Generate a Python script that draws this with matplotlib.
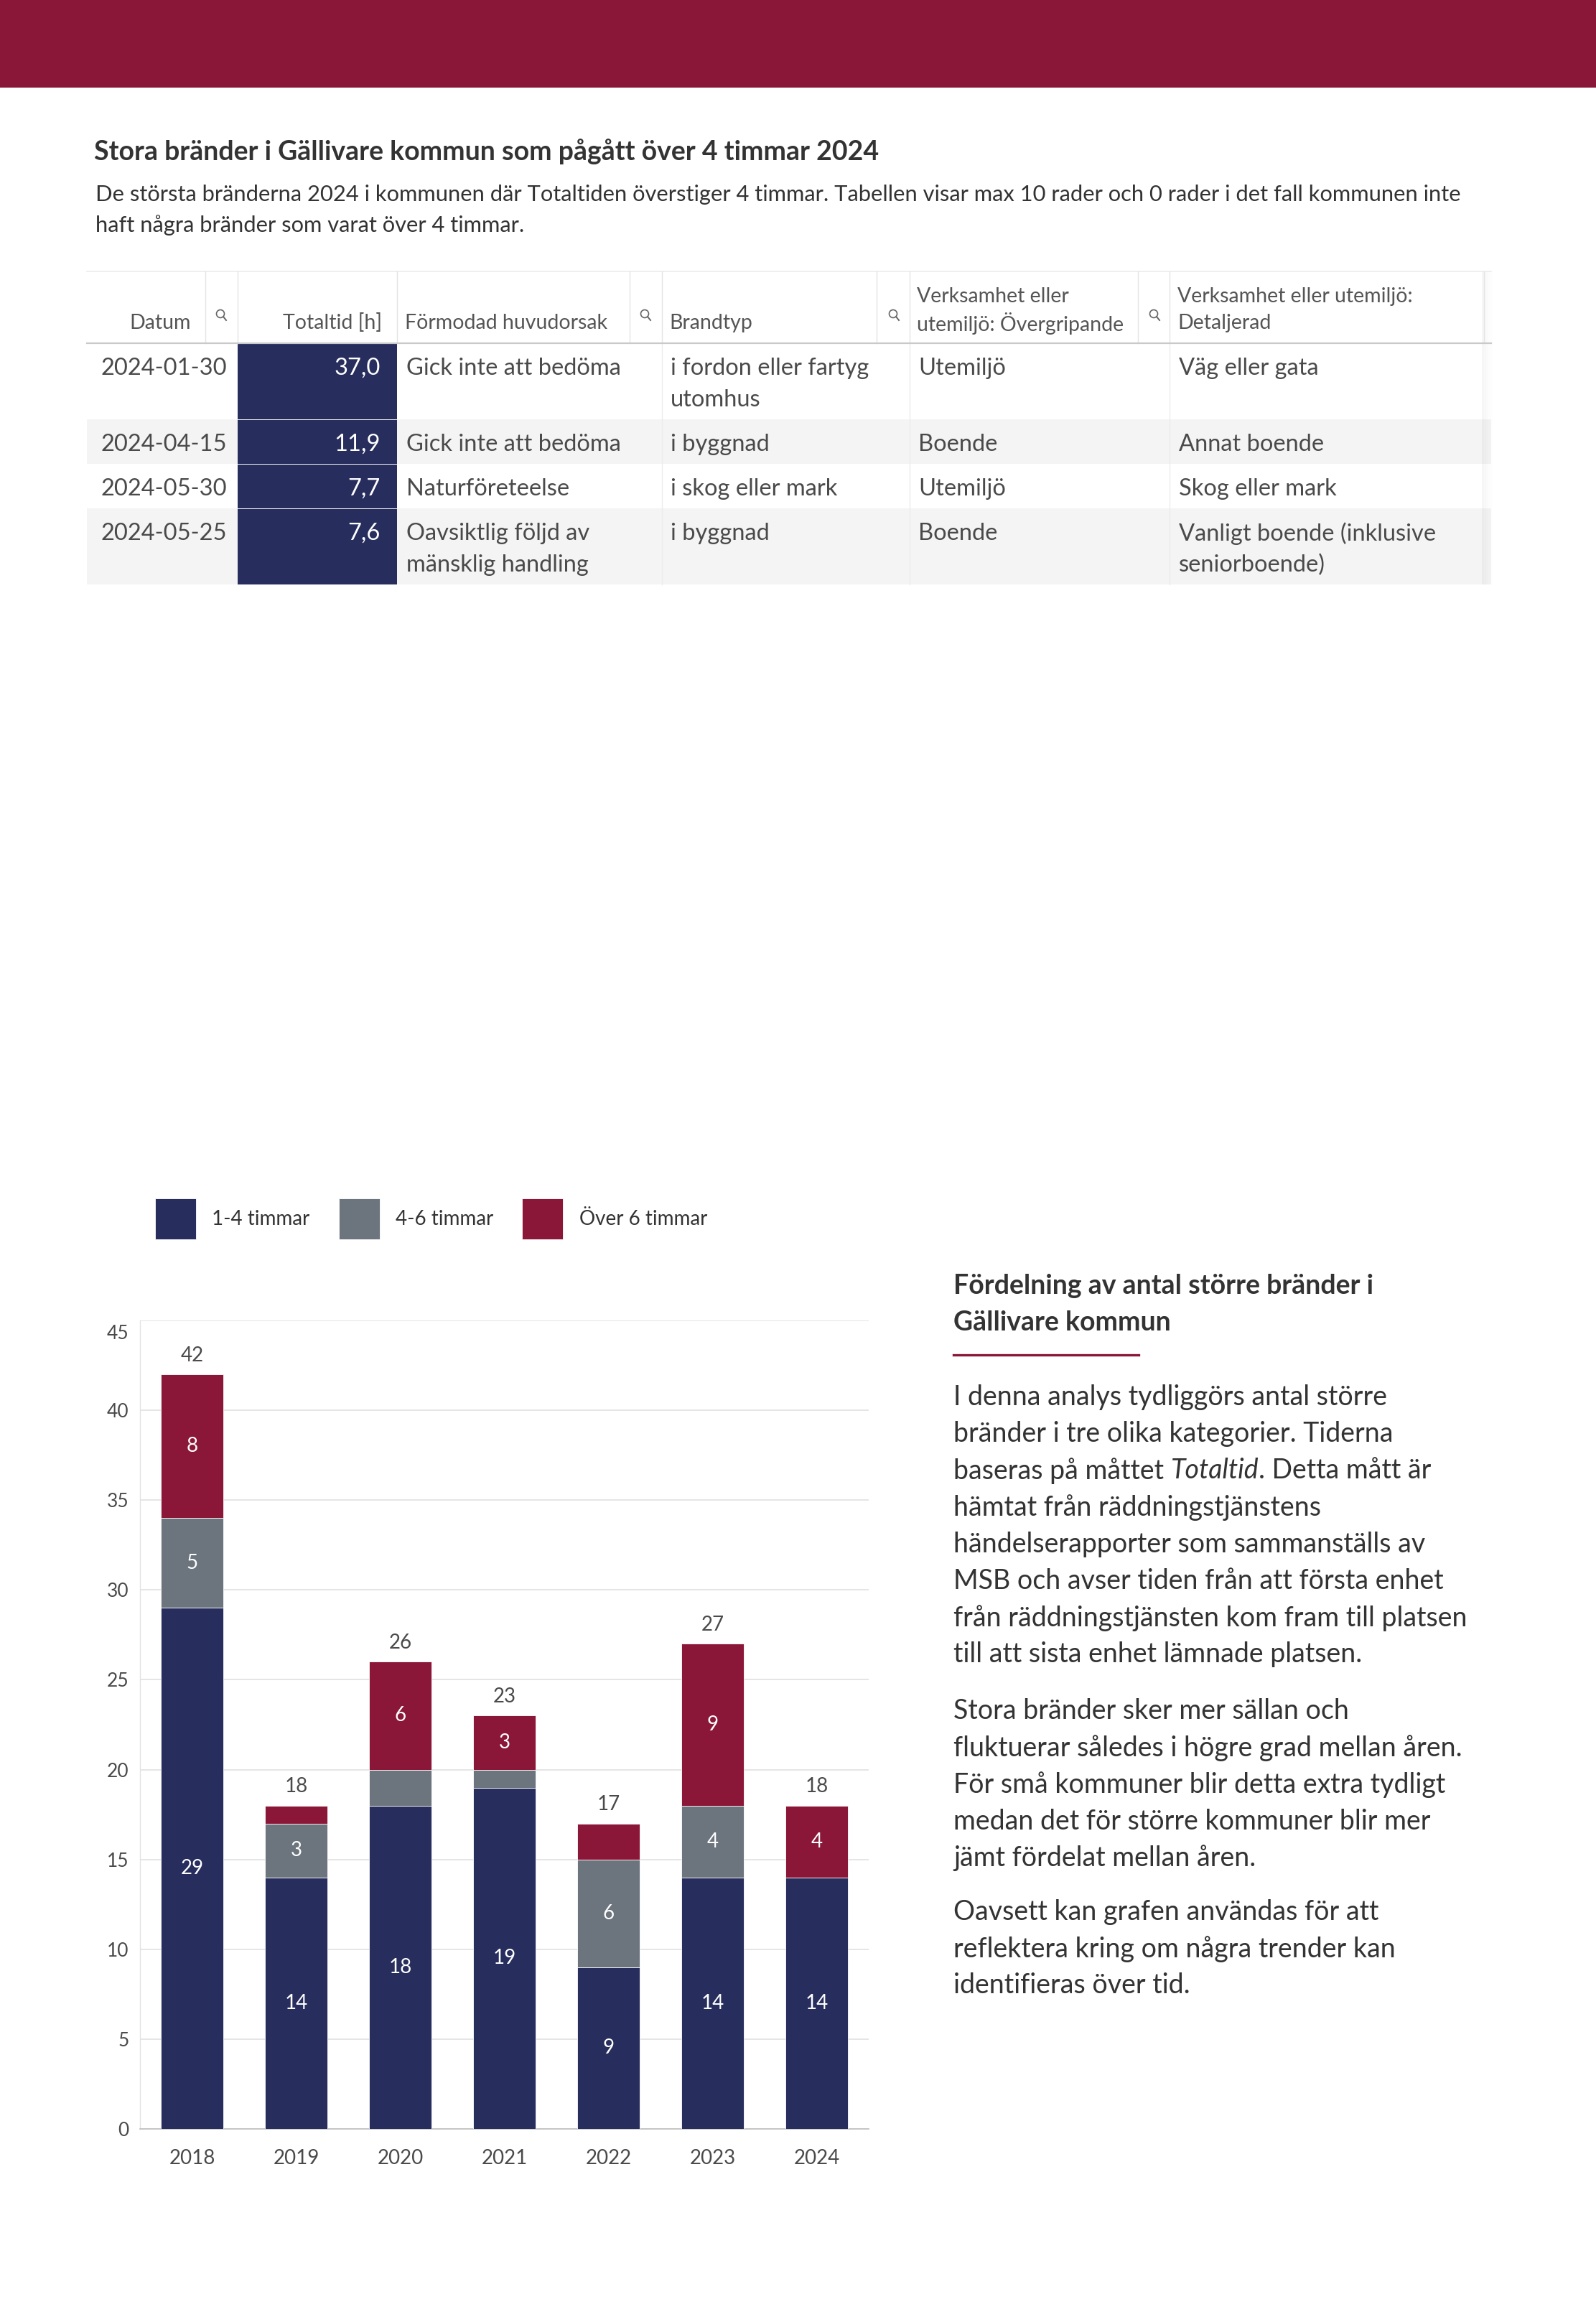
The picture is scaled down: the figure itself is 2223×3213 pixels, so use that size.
import matplotlib
matplotlib.use("Agg")
import matplotlib.pyplot as plt
from matplotlib.patches import Rectangle, Circle
from matplotlib.lines import Line2D
import matplotlib.transforms as mtransforms
import numpy as np

plt.rcParams['font.family'] = ['Lato', 'DejaVu Sans']

# ---------------- data ----------------
years = ['2018', '2019', '2020', '2021', '2022', '2023', '2024']
series_names = ['1-4 timmar', '4-6 timmar', 'Över 6 timmar']
s_1_4 = [29, 14, 18, 19, 9, 14, 14]
s_4_6 = [5, 3, 2, 1, 6, 4, 0]
s_over6 = [8, 1, 6, 3, 2, 9, 4]
y_ticks = [0, 5, 10, 15, 20, 25, 30, 35, 40, 45]

table_headers = ['Datum', 'Totaltid [h]', 'Förmodad huvudorsak', 'Brandtyp',
                 'Verksamhet eller\nutemiljö: Övergripande',
                 'Verksamhet eller utemiljö:\nDetaljerad']
datum = ['2024-01-30', '2024-04-15', '2024-05-30', '2024-05-25']
totaltid = [37.0, 11.9, 7.7, 7.6]
huvudorsak = ['Gick inte att bedöma', 'Gick inte att bedöma', 'Naturföreteelse',
              'Oavsiktlig följd av\nmänsklig handling']
brandtyp = ['i fordon eller fartyg\nutomhus', 'i byggnad', 'i skog eller mark', 'i byggnad']
overgripande = ['Utemiljö', 'Boende', 'Utemiljö', 'Boende']
detaljerad = ['Väg eller gata', 'Annat boende', 'Skog eller mark',
              'Vanligt boende (inklusive\nseniorboende)']

title = 'Stora bränder i Gällivare kommun som pågått över 4 timmar 2024'
subtitle = ['De största bränderna 2024 i kommunen där Totaltiden överstiger 4 timmar. '
            'Tabellen visar max 10 rader och 0 rader i det fall kommunen inte',
            'haft några bränder som varat över 4 timmar.']
side_heading = ['Fördelning av antal större bränder i', 'Gällivare kommun']
side_paragraphs = [
    ['I denna analys tydliggörs antal större',
     'bränder i tre olika kategorier. Tiderna',
     'baseras på måttet |Totaltid|. Detta mått är',
     'hämtat från räddningstjänstens',
     'händelserapporter som sammanställs av',
     'MSB och avser tiden från att första enhet',
     'från räddningstjänsten kom fram till platsen',
     'till att sista enhet lämnade platsen.'],
    ['Stora bränder sker mer sällan och',
     'fluktuerar således i högre grad mellan åren.',
     'För små kommuner blir detta extra tydligt',
     'medan det för större kommuner blir mer',
     'jämt fördelat mellan åren.'],
    ['Oavsett kan grafen användas för att',
     'reflektera kring om några trender kan',
     'identifieras över tid.'],
]

# ---------------- style ----------------
NAVY = '#272d5c'
GREY = '#6c747d'
CRIMSON = '#8b1738'
TXT = '#333333'
TXT2 = '#4a4a4a'

W, H = 2223, 3213
DPI = 100
fig = plt.figure(figsize=(W / DPI, H / DPI), dpi=DPI)
fig.patch.set_facecolor('white')

lay = fig.add_axes([0, 0, 1, 1])
lay.set_xlim(0, W)
lay.set_ylim(H, 0)
lay.axis('off')

# banner
lay.add_patch(Rectangle((0, 0), W, 122, color=CRIMSON, lw=0))

# title + subtitle
lay.text(131, 211, title, fontsize=27, fontweight='bold', color=TXT, va='center', ha='left')
for i, line in enumerate(subtitle):
    lay.text(133, 271 + i * 43, line, fontsize=22.2, color=TXT, va='center', ha='left')

# ---------------- table ----------------
T_LEFT, T_RIGHT = 121, 2077
T_TOP, H_BOT = 378, 478
col_starts = [121, 331, 553, 922, 1267, 1629]
col_ends = [331, 553, 922, 1267, 1629, 2067]
icon_x = [307, None, 898, 1244, 1607, None]
header_sep = [286, 331, 553, 877, 922, 1221, 1267, 1585, 1629, 2067]

lay.plot([T_LEFT, T_RIGHT], [T_TOP, T_TOP], color='#ececec', lw=1.2)
for xs in header_sep:
    lay.plot([xs, xs], [T_TOP, H_BOT], color='#e4e4e4', lw=1.0)

HDR_FS = 20.5
BODY_FS = 23.5
hdr_color = '#555555'
hdr_x = [266, 532, 564, 932, 1277, 1640]
hdr_ha = ['right', 'right', 'left', 'left', 'left', 'left']
for k, lab in enumerate(table_headers):
    lines = lab.split('\n')
    n = len(lines)
    for j, ln in enumerate(lines):
        y = 450 - (n - 1 - j) * 37
        lay.text(hdr_x[k], y, ln, fontsize=HDR_FS, color=hdr_color, ha=hdr_ha[k], va='center')
    if icon_x[k] is not None:
        cx, cy = icon_x[k], 437
        lay.add_patch(Circle((cx, cy), 5.5, fill=False, ec='#666666', lw=1.2))
        lay.add_line(Line2D([cx + 4, cx + 8], [cy + 4, cy + 9], color='#666666', lw=1.4))

rows = list(zip(datum, totaltid, huvudorsak, brandtyp, overgripande, detaljerad))
LH = 44
y_top = H_BOT
body_x = [141, 530, 566, 934, 1279, 1642]
for r, row in enumerate(rows):
    cells = [row[0], f'{row[1]:.1f}'.replace('.', ','), row[2], row[3], row[4], row[5]]
    nlines = max(len(c.split('\n')) for c in cells)
    rh = 62 + LH * (nlines - 1)
    if r % 2 == 1:
        lay.add_patch(Rectangle((T_LEFT, y_top), T_RIGHT - T_LEFT, rh, color='#f4f4f4', lw=0, zorder=0))
    gap = 1.5 if r > 0 else 0
    lay.add_patch(Rectangle((col_starts[1], y_top + gap), col_ends[1] - col_starts[1],
                            rh - gap, color=NAVY, lw=0, zorder=1))
    for k, c in enumerate(cells):
        for j, ln in enumerate(c.split('\n')):
            lay.text(body_x[k], y_top + 35 + j * LH, ln, fontsize=BODY_FS,
                     color='white' if k == 1 else TXT2,
                     ha='right' if k == 1 else 'left', va='center', zorder=2)
    y_top += rh
T_BOT = y_top
for xs in [922, 1267, 1629]:
    lay.plot([xs, xs], [H_BOT, T_BOT], color='#ececec', lw=1.0, zorder=1)
lay.plot([T_LEFT, T_RIGHT], [H_BOT, H_BOT], color='#c9c9c9', lw=1.6, zorder=3)
for i, a in enumerate([0.035, 0.028, 0.02, 0.013, 0.007]):
    lay.add_patch(Rectangle((2064 + i * 3, T_TOP), 3, T_BOT - T_TOP, color='black', alpha=a, lw=0))

# ---------------- chart ----------------
ax = fig.add_axes([195 / W, (H - 2965) / H, (1210 - 195) / W, (2965 - 1839) / H])
x = np.arange(len(years))
bottoms = np.zeros(len(years))
colors = [NAVY, GREY, CRIMSON]
handles = []
for vals, name, col in zip([s_1_4, s_4_6, s_over6], series_names, colors):
    vals = np.array(vals, dtype=float)
    b = ax.bar(x, vals, 0.6, bottom=bottoms, color=col, label=name, zorder=3,
               edgecolor='white', linewidth=0.6)
    handles.append(b)
    for xi, v, bt in zip(x, vals, bottoms):
        if v >= 3:
            ax.text(xi, bt + v / 2, f'{int(v)}', ha='center', va='center', color='white',
                    fontsize=20, zorder=4)
    bottoms = bottoms + vals
for xi, t in zip(x, bottoms):
    ax.annotate(f'{int(t)}', (xi, t), xytext=(0, 19), textcoords='offset points',
                ha='center', va='center', fontsize=20, color=TXT2)

ax.set_xlim(-0.5, len(years) - 0.5)
ax.set_ylim(0, 45)
ax.set_yticks(y_ticks)
ax.set_xticks(x)
ax.set_xticklabels(years)
ax.tick_params(axis='both', length=0, labelcolor=TXT2)
ax.tick_params(axis='y', pad=11, labelsize=19)
ax.tick_params(axis='x', pad=20, labelsize=20)
ax.grid(axis='y', color='#dedede', lw=1.1, zorder=0)
ax.set_axisbelow(True)
for s in ['top', 'right']:
    ax.spines[s].set_visible(False)
ax.spines['left'].set_color('#e2e2e2')
ax.spines['left'].set_linewidth(1.0)
ax.spines['bottom'].set_color('#bdbdbd')
ax.spines['bottom'].set_linewidth(1.2)
ylabs = ax.get_yticklabels()
off = mtransforms.ScaledTranslation(0, -16 / DPI, fig.dpi_scale_trans)
ylabs[-1].set_transform(ylabs[-1].get_transform() + off)

# legend
fig.legend(handles=handles, labels=series_names, loc='upper left',
           bbox_to_anchor=(216 / W, 1 - 1669 / H), ncol=3, frameon=False,
           fontsize=20, handlelength=2.05, handleheight=2.78, handletextpad=0.8,
           columnspacing=1.45, borderpad=0, borderaxespad=0, labelcolor=TXT)

# ---------------- side text ----------------
SX = 1328
for i, ln in enumerate(side_heading):
    lay.text(SX, 1791 + i * 51, ln, fontsize=27, fontweight='bold', color=TXT, va='center')
lay.plot([SX, 1586], [1887, 1887], color=CRIMSON, lw=2.4)

renderer = fig.canvas.get_renderer()
para_starts = [1946, 2383, 2663]
SIDE_FS = 27
for p, lines in enumerate(side_paragraphs):
    for i, ln in enumerate(lines):
        y = para_starts[p] + i * 51.2
        parts = ln.split('|')
        xcur = SX
        for k, part in enumerate(parts):
            if part == '':
                continue
            t = lay.text(xcur, y, part, fontsize=SIDE_FS, color=TXT, va='center', ha='left',
                         style='italic' if k % 2 == 1 else 'normal')
            bb = t.get_window_extent(renderer)
            xcur += bb.width

fig.savefig('out.png', dpi=DPI, facecolor='white')
